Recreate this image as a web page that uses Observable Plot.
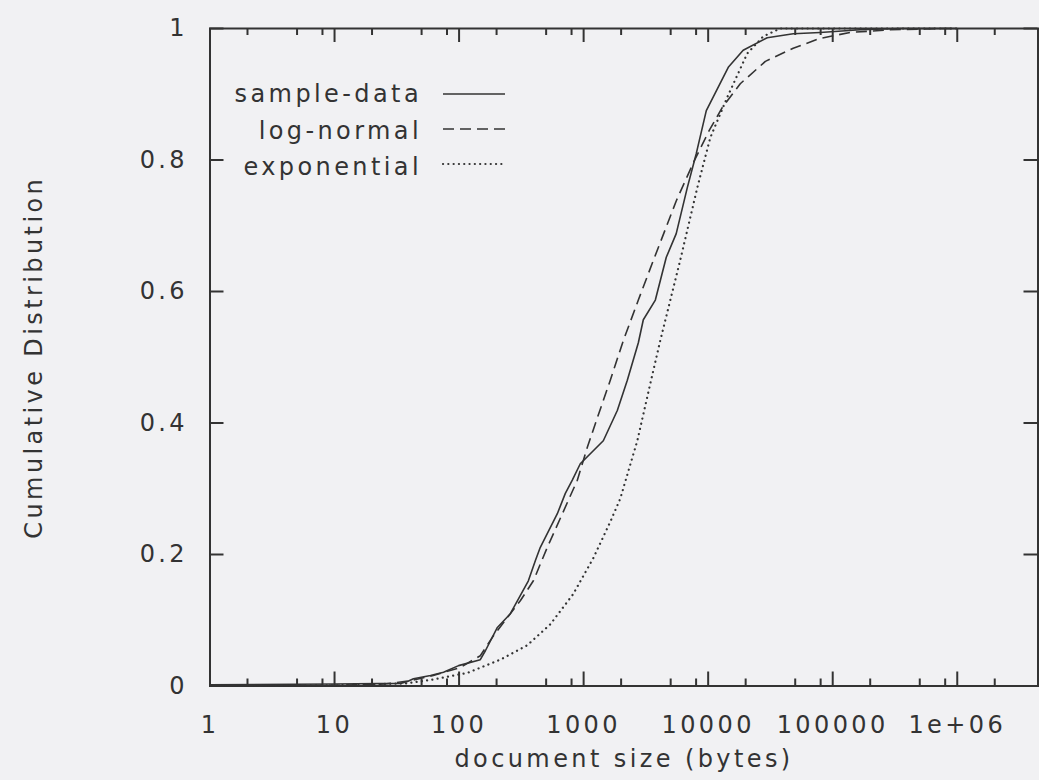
<!DOCTYPE html>
<html><head><meta charset="utf-8">
<script src="https://cdn.jsdelivr.net/npm/d3@7"></script>
<script src="https://cdn.jsdelivr.net/npm/@observablehq/plot@0.6"></script>
<style>
html,body{margin:0;padding:0;background:#f1f1f3;}
#chart{width:1039px;height:780px;overflow:hidden;}
svg{display:block;}
</style></head><body><div id="chart"></div>
<script>
// ---- data ----
const xMajorTicks = [1, 10, 100, 1000, 10000, 100000, 1000000];
const xTickLabels = ["1", "10", "100", "1000", "10000", "100000", "1e+06"];
const xMinorTicks = [2, 5, 8, 20, 50, 80, 200, 500, 800, 2000, 5000, 8000,
  20000, 50000, 80000, 200000, 500000, 800000, 2000000];
const yTicks = [0, 0.2, 0.4, 0.6, 0.8, 1];
const yTickLabels = ["0", "0.2", "0.4", "0.6", "0.8", "1"];
const xDomain = [1, 4450000];
const seriesNames = ["sample-data", "log-normal", "exponential"];

const sampleX = [1, 10, 34, 38.5, 43, 59, 75, 99, 148, 163, 203, 258, 360, 410, 449, 615, 713, 811,
  940, 1439, 1864, 2243, 2750, 3015, 3765, 4610, 5540, 6800, 8030, 9660, 14500, 19100, 29800,
  48200, 79300, 166000, 350000, 1000000];
const sampleY = [0.002, 0.003, 0.004, 0.007, 0.011, 0.016, 0.021, 0.031, 0.040, 0.054, 0.089, 0.110, 0.160, 0.191, 0.211, 0.262, 0.293, 0.313,
  0.338, 0.373, 0.419, 0.465, 0.522, 0.557, 0.587, 0.652, 0.688, 0.758, 0.810, 0.875, 0.941, 0.967, 0.986,
  0.992, 0.994, 0.998, 1.0, 1.0];

const lognormX = [1, 10, 25, 40.6, 62, 102, 148, 185, 244, 311, 395, 511, 675, 890, 1071, 1289, 1637,
  2080, 2750, 3625, 5550, 7740, 10200, 13000, 18100, 28800, 48200, 79300, 138000, 290000, 730000, 1000000];
const lognormY = [0, 0.001, 0.003, 0.008, 0.016, 0.028, 0.046, 0.074, 0.104, 0.130, 0.160, 0.211, 0.262, 0.313, 0.363, 0.408, 0.465,
  0.525, 0.587, 0.647, 0.738, 0.799, 0.845, 0.880, 0.916, 0.950, 0.970, 0.985, 0.994, 0.998, 1.0, 1.0];

const expX = [1, 10, 38, 62, 117, 214, 353, 541, 826, 1200, 1640, 1969, 2698, 3430, 4120, 4966, 5970,
  8180, 10400, 14200, 20600, 27700, 37900, 1000000];
const expY = [0, 0.001, 0.004, 0.010, 0.020, 0.040, 0.062, 0.094, 0.140, 0.195, 0.250, 0.285, 0.373, 0.460, 0.525, 0.587, 0.648,
  0.758, 0.834, 0.895, 0.962, 0.988, 1.0, 1.0];

// ---- layout ----
const W = 1039, H = 780;
const mL = 209.5, mR = 1.5, mT = 28, mB = 94.5;
const fw = W - mL - mR, fh = H - mT - mB;
const ink = "#333";
const font = "'DejaVu Sans', Verdana, sans-serif";
const fs = 24;

const toRows = (xs, ys) => xs.map((x, i) => ({x, y: ys[i]}));
const series = [
  {name: seriesNames[0], rows: toRows(sampleX, sampleY), dash: null, width: 1.6, cap: "butt"},
  {name: seriesNames[1], rows: toRows(lognormX, lognormY), dash: "11,6", width: 1.6, cap: "butt"},
  {name: seriesNames[2], rows: toRows(expX, expY), dash: "0.1,5.2", width: 2.2, cap: "round"}
];

const xs = Plot.scale({x: {type: "log", domain: xDomain, range: [mL, W - mR]}});
const ys = Plot.scale({y: {type: "linear", domain: [0, 1], range: [H - mB, mT]}});

// legend placement (pixels -> data)
const legTextX = xs.invert(421.5);
const legLineX1 = xs.invert(443), legLineX2 = xs.invert(505);
const legTextPy = [93.5, 130.5, 167.3];
const legLinePy = [93.5, 128.5, 163.5];

const marks = [
  Plot.frame({stroke: ink, strokeWidth: 2}),
  // ticks (inside, mirrored)
  Plot.tickX(xMajorTicks, {x: d => d, stroke: ink, strokeWidth: 2, insetTop: fh - 14}),
  Plot.tickX(xMajorTicks, {x: d => d, stroke: ink, strokeWidth: 2, insetBottom: fh - 14}),
  Plot.tickX(xMinorTicks, {x: d => d, stroke: ink, strokeWidth: 2, insetTop: fh - 7}),
  Plot.tickX(xMinorTicks, {x: d => d, stroke: ink, strokeWidth: 2, insetBottom: fh - 7}),
  Plot.tickY(yTicks, {y: d => d, stroke: ink, strokeWidth: 2, insetRight: fw - 14}),
  Plot.tickY(yTicks, {y: d => d, stroke: ink, strokeWidth: 2, insetLeft: fw - 14}),
  Plot.axisX({ticks: xMajorTicks, tickSize: 0, tickPadding: 29.5, label: null,
    tickFormat: d => xTickLabels[xMajorTicks.indexOf(d)], fontSize: fs, fill: ink}),
  Plot.axisY({ticks: yTicks, tickSize: 0, tickPadding: 22, label: null,
    tickFormat: d => yTickLabels[yTicks.indexOf(d)], fontSize: fs, fill: ink}),
  Plot.text(["document size (bytes)"], {text: d => d, frameAnchor: "bottom", textAnchor: "middle",
    lineAnchor: "middle", dy: 73.8, fontSize: fs, fill: ink}),
  Plot.text(["Cumulative Distribution"], {text: d => d, frameAnchor: "left", textAnchor: "middle",
    lineAnchor: "middle", rotate: -90, dx: -175.5, fontSize: fs, fill: ink})
];

series.forEach((s, i) => {
  marks.push(Plot.line(s.rows, {x: "x", y: "y", stroke: ink, strokeWidth: s.width,
    strokeDasharray: s.dash, strokeLinecap: s.cap, strokeLinejoin: "round"}));
  marks.push(Plot.text([s.name], {text: d => d, x: legTextX, y: ys.invert(legTextPy[i]),
    textAnchor: "end", lineAnchor: "middle", fontSize: fs, fill: ink}));
  marks.push(Plot.ruleY([ys.invert(legLinePy[i])], {y: d => d, x1: legLineX1, x2: legLineX2,
    stroke: ink, strokeWidth: s.width, strokeDasharray: s.dash, strokeLinecap: s.cap}));
});

const chart = Plot.plot({
  width: W, height: H,
  marginLeft: mL, marginRight: mR, marginTop: mT, marginBottom: mB,
  x: {type: "log", domain: xDomain},
  y: {domain: [0, 1]},
  style: {background: "transparent", fontFamily: font, fontSize: fs + "px", color: ink, letterSpacing: "3.4px", overflow: "visible"},
  marks
});
document.getElementById("chart").appendChild(chart);
</script>
</body></html>
